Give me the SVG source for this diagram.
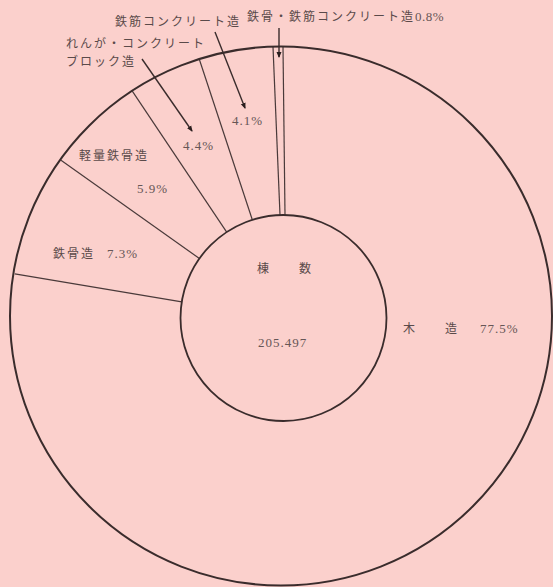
<svg xmlns="http://www.w3.org/2000/svg" width="553" height="587" viewBox="0 0 553 587">
<style>
.bg{fill:#fbd0cc}
.ring{fill:none;stroke:#3a2c2c}
.rad{stroke:#4a3a3a;stroke-width:1.2}
.lead{stroke:#3a2c2c;stroke-width:1.4;fill:none}
.jp{font-family:"Noto Sans CJK JP","Noto Sans",sans-serif;font-size:12px;fill:#5a4a4a;letter-spacing:2px}
.num{font-family:"Liberation Serif","DejaVu Serif",serif;font-size:13px;fill:#665656;letter-spacing:1px}
</style>
<defs>
<marker id="ah" viewBox="0 0 6 6" refX="5" refY="3" markerWidth="6" markerHeight="6" markerUnits="userSpaceOnUse" orient="auto">
<path d="M0,0.5 L6,3 L0,5.5 Z" fill="#2a1e1e"/>
</marker>
</defs>
<rect class="bg" x="0" y="0" width="553" height="587"/>
<g id="chart">
<line class="rad" x1="285" y1="215" x2="283" y2="47"/>
<line class="rad" x1="280" y1="215" x2="273" y2="47"/>
<line class="rad" x1="252.3" y1="219.8" x2="199.3" y2="59.2"/>
<line class="rad" x1="226.7" y1="232.1" x2="132.3" y2="91.2"/>
<line class="rad" x1="199.4" y1="258.5" x2="61" y2="160.3"/>
<line class="rad" x1="181.8" y1="301.9" x2="14.8" y2="273.8"/>
<ellipse class="ring" cx="281" cy="316" rx="271" ry="269.5" stroke-width="2"/>
<circle class="ring" cx="283.5" cy="318" r="103" stroke-width="1.8"/>
</g>
<g id="connectors">
<line class="lead" x1="279" y1="28" x2="279" y2="57" marker-end="url(#ah)"/>
<line class="lead" x1="215" y1="32" x2="245" y2="108" marker-end="url(#ah)"/>
<line class="lead" x1="142" y1="59" x2="192" y2="131" marker-end="url(#ah)"/>
</g>
<g id="label-src">
<text class="jp" x="247" y="21">鉄骨・鉄筋コンクリート造<tspan class="num" style="letter-spacing:0.5px">0.8%</tspan></text>
</g>
<g id="label-rc">
<text class="jp" x="115" y="26">鉄筋コンクリート造</text>
<text class="num" x="232" y="125">4.1%</text>
</g>
<g id="label-brick">
<text class="jp" x="66" y="48">れんが・コンクリート</text>
<text class="jp" x="66" y="66">ブロック造</text>
<text class="num" x="183" y="150">4.4%</text>
</g>
<g id="label-light">
<text class="jp" x="79" y="160">軽量鉄骨造</text>
<text class="num" x="137" y="193">5.9%</text>
</g>
<g id="label-steel">
<text class="jp" x="53" y="258">鉄骨造</text>
<text class="num" x="107" y="258">7.3%</text>
</g>
<g id="label-wood">
<text class="jp" x="403" y="333">木</text>
<text class="jp" x="445" y="333">造</text>
<text class="num" x="480" y="333">77.5%</text>
</g>
<g id="center">
<text class="jp" x="257" y="273">棟</text>
<text class="jp" x="299" y="273">数</text>
<text class="num" x="258" y="347">205.497</text>
</g>
</svg>
